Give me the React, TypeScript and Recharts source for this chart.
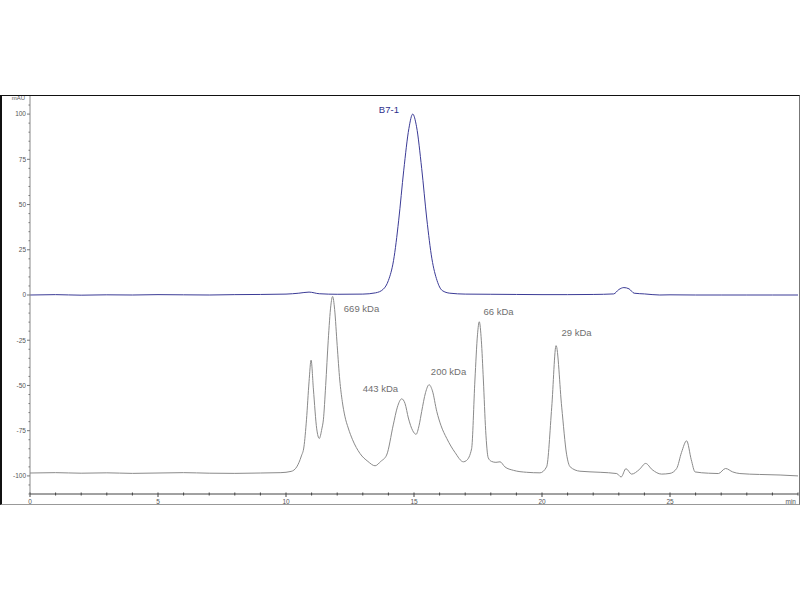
import { Line, LineChart, ReferenceDot, XAxis, YAxis } from "recharts";

// B7-1 sample trace (blue), retention time in min / absorbance in mAU
const B71_TIME = [
  0, 1, 2, 3, 4, 5, 6, 7, 8, 9, 10, 10.5, 10.9, 11.3, 12, 13, 13.5, 13.8, 14.0,
  14.2, 14.4, 14.6, 14.8, 14.95, 15.1, 15.3, 15.5, 15.7, 15.9, 16.1, 16.4, 17,
  18, 19, 20, 21, 22, 22.8, 23.0, 23.2, 23.4, 23.6, 24, 24.6, 25, 26, 27, 28,
  29, 30
];
const B71_MAU = [
  0, 0.2, -0.1, 0.1, 0, 0.2, 0.1, 0, 0.2, 0.3, 0.5, 1.0, 1.6, 0.7, 0.4, 0.5,
  1.2, 3.2, 8, 19, 41, 69, 92, 100, 93, 70, 42, 20, 8, 2.5, 1, 0.5, 0.4, 0.3,
  0.2, 0.2, 0.3, 0.6, 3.0, 4.1, 3.4, 1.0, 0.6, 0, 0.1, 0, 0, 0, 0, 0
];

// molecular weight standard trace (gray), offset by -100 mAU
const STD_TIME = [
  0, 1, 2, 3, 4, 5, 6, 7, 8, 9, 9.8, 10.2, 10.42, 10.6, 10.7, 10.8, 10.9,
  10.98, 11.07, 11.2, 11.3, 11.4, 11.46, 11.55, 11.65, 11.75, 11.82, 11.9,
  12.0, 12.1, 12.2, 12.3, 12.43, 12.6, 12.89, 13.2, 13.48, 13.7, 13.93, 14.19,
  14.35, 14.52, 14.65, 14.78, 14.95, 15.08, 15.2, 15.3, 15.45, 15.59, 15.72,
  15.89, 16.05, 16.28, 16.6, 16.93, 17.05, 17.25, 17.38, 17.48, 17.55, 17.63,
  17.71, 17.8, 17.9, 18.03, 18.2, 18.36, 18.55, 18.88, 19.4, 19.92, 20.18,
  20.38, 20.55, 20.77, 20.96, 21.1, 21.48, 22.27, 22.92, 23.09, 23.28, 23.5,
  23.8, 24.05, 24.3, 24.67, 25.0, 25.26, 25.45, 25.65, 25.83, 25.98, 26.5,
  26.89, 27.17, 27.45, 27.73, 28.5, 29.3, 30
];
const STD_MAU = [
  -98.4, -98.2, -98.5, -98.3, -98.6, -98.4, -98.2, -98.5, -98.6, -98.4, -98.2,
  -97.5, -95, -89, -84, -69, -48, -36, -52, -74, -79.3, -74, -69, -50, -25,
  -6, -0.8, -8, -28, -47, -59, -67, -73.5, -80, -87.6, -92, -94.4, -92, -88.5,
  -71.8, -62, -57.4, -60, -68, -75, -77, -72, -64.4, -54, -49.6, -53, -64.4,
  -72, -79.3, -87, -92.2, -91.5, -85, -47, -22, -14.8, -25, -47, -75, -90,
  -92, -92.5, -92.2, -95, -96.9, -98, -98.3, -95, -62, -28, -62, -88, -95,
  -97.4, -98, -98.7, -100.6, -96, -99, -96.5, -93.1, -96.5, -99, -98.6,
  -95.9, -87, -80.6, -91, -97.8, -98.5, -98.7, -95.9, -97.8, -98.7, -99.2,
  -99.5, -100
];

const X_TICKS = [
  0, 1, 2, 3, 4, 5, 6, 7, 8, 9, 10, 11, 12, 13, 14, 15, 16, 17, 18, 19, 20,
  21, 22, 23, 24, 25, 26, 27, 28, 29, 30
];
const Y_TICKS = [
  -110, -105, -100, -95, -90, -85, -80, -75, -70, -65, -60, -55, -50, -45,
  -40, -35, -30, -25, -20, -15, -10, -5, 0, 5, 10, 15, 20, 25, 30, 35, 40, 45,
  50, 55, 60, 65, 70, 75, 80, 85, 90, 95, 100, 105, 110
];

const PEAK_LABELS = ["669 kDa", "443 kDa", "200 kDa", "66 kDa", "29 kDa"];
const PEAK_LABEL_TIME = [12.95, 13.69, 16.35, 18.3, 21.35];
const PEAK_LABEL_MAU = [-7.7, -52, -42.6, -9.4, -21];

const b71Data = B71_TIME.map((t, i) => ({ t, v: B71_MAU[i] }));
const stdData = STD_TIME.map((t, i) => ({ t, v: STD_MAU[i] }));

const FONT = '"Liberation Sans", Arial, sans-serif';
const BLUE = "#3b3b96";
const GRAY = "#8a8a8a";

function YTick(props: any) {
  const { x, y, payload } = props;
  const v = payload.value;
  if (v === 110) {
    return (
      <text x={x - 5} y={y + 4} textAnchor="end" fontSize={6} fill="#555" fontFamily={FONT}>
        mAU
      </text>
    );
  }
  const major = v % 25 === 0;
  return (
    <g>
      <line x1={x - (major ? 3 : 1.5)} x2={x} y1={y} y2={y} stroke="#777" />
      {major && (
        <text
          x={x - 4}
          y={y}
          dy="0.35em"
          textAnchor="end"
          fontSize={6.5}
          fill="#555"
          fontFamily={FONT}
        >
          {v}
        </text>
      )}
    </g>
  );
}

function XTick(props: any) {
  const { x, y, payload } = props;
  const v = payload.value;
  const major = v % 5 === 0 && v < 30;
  return (
    <g>
      <line x1={x} x2={x} y1={y - 1.5} y2={y + (major ? 3 : 1.5)} stroke="#444" />
      {major && (
        <text x={x} y={y + 8} dy="0.35em" textAnchor="middle" fontSize={6.5} fill="#555" fontFamily={FONT}>
          {v}
        </text>
      )}
      {v === 30 && (
        <text x={x - 2} y={y + 8} dy="0.35em" textAnchor="end" fontSize={6.5} fill="#555" fontFamily={FONT}>
          min
        </text>
      )}
    </g>
  );
}

export default function App() {
  return (
    <div style={{ position: "absolute", left: 0, top: 0, width: 800, height: 600, background: "#fff" }}>
      <LineChart
        width={800}
        height={600}
        margin={{ top: 96, right: 2, bottom: 0, left: 0 }}
      >
        <XAxis
          type="number"
          dataKey="t"
          domain={[0, 30]}
          ticks={X_TICKS}
          interval={0}
          allowDataOverflow
          height={106}
          stroke="#444"
          tickLine={false}
          tickSize={0}
          tickMargin={0}
          tick={<XTick />}
        />
        <YAxis
          type="number"
          domain={[-110, 110]}
          ticks={Y_TICKS}
          interval={0}
          allowDataOverflow
          width={30}
          stroke="#888"
          tickLine={false}
          tickSize={0}
          tickMargin={0}
          tick={<YTick />}
        />
        <Line
          data={stdData}
          dataKey="v"
          type="monotone"
          stroke={GRAY}
          strokeWidth={1}
          dot={false}
          isAnimationActive={false}
        />
        <Line
          data={b71Data}
          dataKey="v"
          type="monotone"
          stroke={BLUE}
          strokeWidth={1}
          dot={false}
          isAnimationActive={false}
        />
        <ReferenceDot
          x={14.02}
          y={102.3}
          r={0}
          stroke="none"
          fill="none"
          ifOverflow="visible"
          label={{ value: "B7-1", position: "center", fill: "#2e2e8c", fontSize: 9.5, fontFamily: FONT }}
        />
        {PEAK_LABELS.map((text, i) => (
          <ReferenceDot
            key={text}
            x={PEAK_LABEL_TIME[i]}
            y={PEAK_LABEL_MAU[i]}
            r={0}
            stroke="none"
            fill="none"
            ifOverflow="visible"
            label={{ value: text, position: "center", fill: "#707070", fontSize: 9.5, fontFamily: FONT }}
          />
        ))}
      </LineChart>
      <div
        style={{
          position: "absolute",
          left: 0,
          top: 95,
          width: 797,
          height: 408,
          borderTop: "1.5px solid #111",
          borderLeft: "2px solid #111",
          borderRight: "1px solid #777",
          borderBottom: "1px solid #999",
          pointerEvents: "none"
        }}
      />
    </div>
  );
}
